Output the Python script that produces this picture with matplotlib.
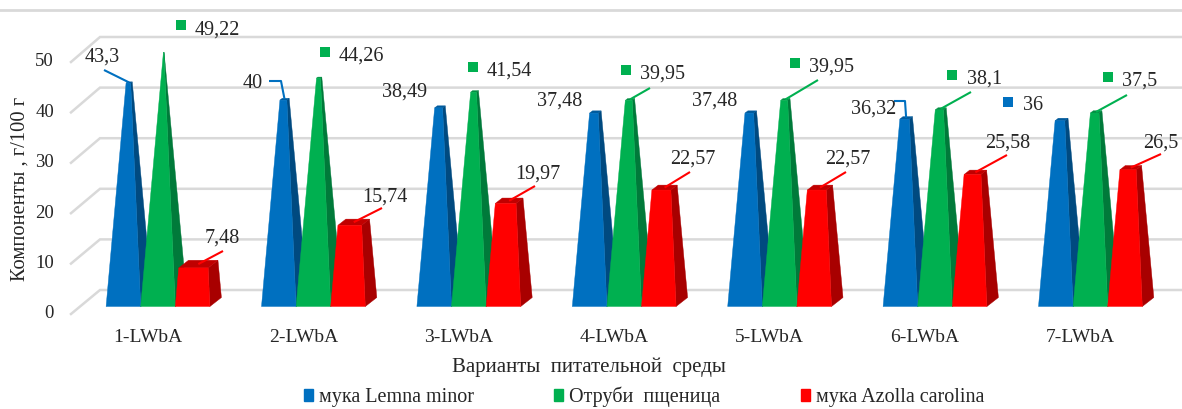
import matplotlib
matplotlib.use("Agg")
import matplotlib.pyplot as plt
from matplotlib.patches import Polygon, Patch

plt.rcParams['font.family'] = ['Liberation Serif', 'DejaVu Serif']

categories = ['1-LWbA', '2-LWbA', '3-LWbA', '4-LWbA', '5-LWbA', '6-LWbA', '7-LWbA']
series_names = ['мука Lemna minor', 'Отруби  пщеница', 'мука Azolla carolina']
lemna = [43.3, 40, 38.49, 37.48, 37.48, 36.32, 36]
otrubi = [49.22, 44.26, 41.54, 39.95, 39.95, 38.1, 37.5]
azolla = [7.48, 15.74, 19.97, 22.57, 22.57, 25.58, 26.5]
y_ticks = [0, 10, 20, 30, 40, 50]
x_title = 'Варианты  питательной  среды'
y_title = 'Компоненты , г/100 г'

W, H = 1182, 409
PX_X = 155.4      # pixels per category
PX_Y = 5.16       # pixels per unit
X0_PX, Y0_PX = 158, 306.5

fig = plt.figure(figsize=(W / 100, H / 100), dpi=100)
ax = fig.add_axes([0, 0, 1, 1])
ax.set_xlim(-X0_PX / PX_X, (W - X0_PX) / PX_X)
ax.set_ylim(-(H - Y0_PX) / PX_Y, Y0_PX / PX_Y)
ax.axis('off')

def X(px):
    return (px - X0_PX) / PX_X
def Y(py):
    return (Y0_PX - py) / PX_Y

FRONT = ['#0070C0', '#00B050', '#FF0000']
SIDE = ['#004A80', '#007A3A', '#A80000']
TOPF = ['#005A9C', '#008F42', '#C00000']
GRID = '#D9D9D9'

BW = 34.6 / PX_X        # bar width
DX = 11.5 / PX_X        # depth, horizontal
DY = 9 / PX_Y           # depth, vertical
VMAX = 50.0

# walls and grid
for g in y_ticks:
    wy = Y(290 - 5.06 * g)
    fy = Y(314 - 5.04 * g)
    ax.plot([X(71), X(100), X(W)], [fy, wy, wy], color=GRID, lw=1.8, zorder=1,
            solid_joinstyle='miter')
    ax.text(X(54), fy, str(g), ha='right', va='center', fontsize=13.5, color='#262626')
ax.plot([X(0), X(W)], [Y(10), Y(10)], color=GRID, lw=2, zorder=1)

def frustum(center, v, k, z):
    x0 = center + (k - 1.5) * BW
    x1 = x0 + BW
    ax_, ay_ = x0 + BW / 2 + DX / 2, VMAX
    t = v / VMAX
    lerp = lambda p: (p[0] + t * (ax_ - p[0]), p[1] + t * (ay_ - p[1]))
    fl, fr = (x0, 0), (x1, 0)
    bl, br = (x0 + DX, DY), (x1 + DX, DY)
    tfl, tfr, tbl, tbr = lerp(fl), lerp(fr), lerp(bl), lerp(br)
    ax.add_patch(Polygon([fr, br, tbr, tfr], closed=True, fc=SIDE[k], ec=SIDE[k], lw=0.3, zorder=z))
    ax.add_patch(Polygon([tfl, tfr, tbr, tbl], closed=True, fc=TOPF[k], ec=TOPF[k], lw=0.3, zorder=z))
    ax.add_patch(Polygon([fl, fr, tfr, tfl], closed=True, fc=FRONT[k], ec=FRONT[k], lw=0.3, zorder=z + 0.1))
    return ((tfl[0] + tbr[0]) / 2, (tfl[1] + tbr[1]) / 2)

all_series = [lemna, otrubi, azolla]
tops = {}
for i in range(len(categories)):
    for k, s in enumerate(all_series):
        tops[(i, k)] = frustum(i, s[i], k, 3 + i + k * 0.2)
    ax.text(i + X(148) - X(158), Y(338), categories[i], ha='center', va='center',
            fontsize=14, color='#262626')

# label layout in pixels: (left x, centre y, leader points or None, square marker or None)
layout = {
    (0, 0): (85, 57, [(104, 70)], None),
    (0, 1): (195, 30, None, (181, 25)),
    (0, 2): (205, 238, [(223, 251)], None),
    (1, 0): (243, 84, [(269, 81), (281, 81)], None),
    (1, 1): (339, 56, None, (325, 52)),
    (1, 2): (362, 197, [(382, 208)], None),
    (2, 0): (382, 92, None, None),
    (2, 1): (487, 71, None, (473, 67)),
    (2, 2): (515, 174, [(535, 186)], None),
    (3, 0): (537, 101, None, None),
    (3, 1): (640, 74, [(650, 88)], (626, 70)),
    (3, 2): (670, 159, [(690, 172)], None),
    (4, 0): (692, 101, None, None),
    (4, 1): (809, 67, [(818, 80)], (795, 63)),
    (4, 2): (825, 159, [(846, 172)], None),
    (5, 0): (851, 109, [(894, 101), (905, 101)], None),
    (5, 1): (967, 79, [(971, 92)], (952, 75)),
    (5, 2): (985, 143, [(1007, 155)], None),
    (6, 0): (1023, 105, None, (1008, 102)),
    (6, 1): (1122, 81, [(1127, 95)], (1108, 77)),
    (6, 2): (1143, 143, [(1161, 154)], None),
}
for (i, k), (lx, ly, leader, sq) in layout.items():
    v = all_series[k][i]
    txt = f'{v:g}'.replace('.', ',')
    ax.text(X(lx), Y(ly), txt, ha='left', va='center', fontsize=14.5, color='#262626', zorder=30)
    tx, ty = tops[(i, k)]
    if leader:
        xs = [X(p[0]) for p in leader] + [tx]
        ys = [Y(p[1]) for p in leader] + [ty]
        ax.plot(xs, ys, color=FRONT[k], lw=1.5, zorder=29, solid_capstyle='butt')
    if sq:
        ax.plot([X(sq[0])], [Y(sq[1])], marker='s', ms=6.5, color=FRONT[k], mew=0, zorder=30)

ax.text(X(589), Y(367), x_title, ha='center', va='center', fontsize=15, color='#262626')
ax.text(X(20), Y(189), y_title, ha='center', va='center', rotation=90, fontsize=14.8, color='#262626')

handles = [Patch(fc=c, ec=c) for c in FRONT]
ax.legend(handles, series_names, ncol=3, loc='center', frameon=False,
          bbox_to_anchor=(644 / W, 1 - 397 / H), bbox_transform=fig.transFigure,
          fontsize=14.5, handlelength=0.45, handleheight=0.55, handletextpad=0.3,
          columnspacing=4.0, labelcolor='#262626')

fig.savefig('out.png', dpi=100)
